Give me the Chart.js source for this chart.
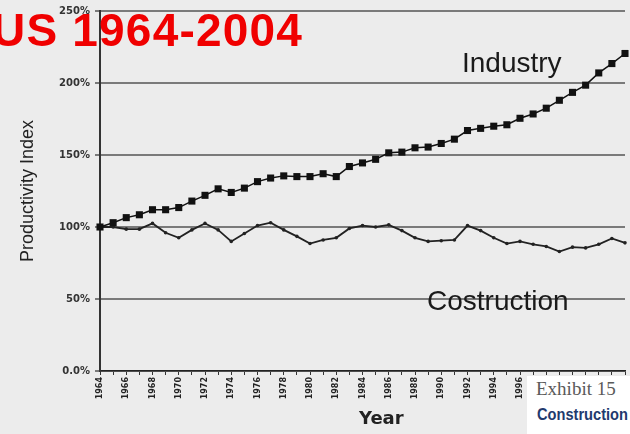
<!DOCTYPE html>
<html>
<head>
<meta charset="utf-8">
<script src="https://cdn.jsdelivr.net/npm/chart.js@4.4.0/dist/chart.umd.min.js"></script>
<style>
  html, body { margin: 0; padding: 0; background: #ececec; }
  #wrap { position: relative; width: 630px; height: 434px; overflow: hidden; background: #ececec; }
  canvas { position: absolute; left: 0; top: 0; }
  .lbl { position: absolute; white-space: nowrap; font-family: "Liberation Sans", Arial, sans-serif; }
  #title { left: -8px; top: 3px; color: #f00000; font-weight: bold; font-size: 46px; letter-spacing: 1.2px; }
  #ind { left: 462px; top: 47px; font-size: 28px; color: #1a1a1a; }
  #con { left: 427px; top: 285px; font-size: 28px; color: #1a1a1a; }
  #exhibit { left: 527px; top: 376px; width: 110px; height: 60px; background: #ffffff; }
  #ex1 { left: 9px; top: 2px; font-family: "Liberation Serif", "DejaVu Serif", serif; font-size: 19px; color: #5a5a5a; }
  #ex2 { left: 10px; top: 29px; font-weight: bold; font-size: 17px; color: #1f3a6e; transform: scaleX(0.86); transform-origin: left top; }
</style>
</head>
<body>
<div id="wrap">
  <canvas id="chart" width="630" height="434"></canvas>
  <div class="lbl" id="title">US 1964-2004</div>
  <div class="lbl" id="ind">Industry</div>
  <div class="lbl" id="con">Costruction</div>
  <div class="lbl" id="exhibit">
    <div class="lbl" id="ex1">Exhibit 15</div>
    <div class="lbl" id="ex2">Construction</div>
  </div>
</div>
<script>
// years 1964..2004
const years = [
  1964, 1965, 1966, 1967, 1968, 1969, 1970, 1971, 1972, 1973,
  1974, 1975, 1976, 1977, 1978, 1979, 1980, 1981, 1982, 1983,
  1984, 1985, 1986, 1987, 1988, 1989, 1990, 1991, 1992, 1993,
  1994, 1995, 1996, 1997, 1998, 1999, 2000, 2001, 2002, 2003, 2004
];

// productivity index, % of 1964
const industry = [
  100, 103, 106.5, 108.5, 112, 112, 113.5, 118, 122, 126.5,
  124, 127, 131.5, 134, 135.5, 135, 135, 137, 135, 142,
  144.5, 147, 151.5, 152, 155, 155.5, 158, 161, 167, 168.5,
  170, 171, 175.5, 178.5, 182.5, 188, 193.5, 198.5, 207, 213.5, 220.5
];

const construction = [
  100, 100, 98.5, 98.5, 102.5, 96, 92.5, 98, 102.5, 98,
  90, 95.5, 101, 103, 98, 93.5, 88.5, 91, 92.5, 99,
  101, 100, 101.5, 97.5, 92.5, 90, 90.5, 91, 101, 97.5,
  92.5, 88.5, 90, 88, 86.5, 83, 86, 85.5, 88, 92, 89
];

const yTicks = [0, 50, 100, 150, 200, 250];

const ctx = document.getElementById('chart').getContext('2d');

const chart = new Chart(ctx, {
  type: 'line',
  data: {
    labels: years.map(String),
    datasets: [
      {
        label: 'Industry',
        data: industry,
        borderColor: '#111',
        backgroundColor: '#111',
        borderWidth: 1.5,
        pointStyle: 'rect',
        pointRadius: 5,
        pointBorderWidth: 0,
        fill: false,
        tension: 0
      },
      {
        label: 'Costruction',
        data: construction,
        borderColor: '#222',
        backgroundColor: '#222',
        borderWidth: 1.8,
        pointStyle: 'circle',
        pointRadius: 1.8,
        pointBorderWidth: 0,
        fill: false,
        tension: 0
      }
    ]
  },
  options: {
    responsive: false,
    animation: false,
    layout: { padding: { top: 7, right: 5, left: 0, bottom: 0 } },
    plugins: {
      legend: { display: false },
      tooltip: { enabled: false }
    },
    scales: {
      x: {
        offset: false,
        grid: { drawOnChartArea: false, drawTicks: true, tickLength: 4, color: '#333', lineWidth: 1 },
        border: { color: '#222', width: 1.5 },
        ticks: {
          autoSkip: false,
          minRotation: 90,
          maxRotation: 90,
          padding: 2,
          color: '#222',
          font: { family: 'DejaVu Sans', weight: 'bold', size: 8 },
          callback: function (v, i) { return i % 2 === 0 ? years[i] : ''; }
        },
        title: {
          display: true,
          text: '      Year',
          color: '#222',
          font: { family: 'DejaVu Sans', weight: 'bold', size: 18 },
          padding: { top: 8, bottom: 4 }
        },
        afterFit: function (s) { s.height = 63; s.paddingRight = 0; }
      },
      y: {
        min: 0,
        max: 250,
        afterBuildTicks: function (s) { s.ticks = yTicks.map(v => ({ value: v })); },
        grid: { color: '#7a7a7a', lineWidth: 2, drawTicks: true, tickLength: 5 },
        border: { color: '#333', width: 2 },
        ticks: {
          color: '#333',
          padding: 5,
          font: { family: 'DejaVu Sans', weight: 'bold', size: 10 },
          callback: function (v) { return v === 0 ? '0.0%' : v + '%'; }
        },
        title: {
          display: true,
          text: 'Productivity Index',
          color: '#222',
          font: { family: 'Liberation Sans', size: 18 },
          padding: { top: 17, bottom: 0 }
        },
        afterFit: function (s) { s.width = 100; }
      }
    }
  }
});
</script>
</body>
</html>
